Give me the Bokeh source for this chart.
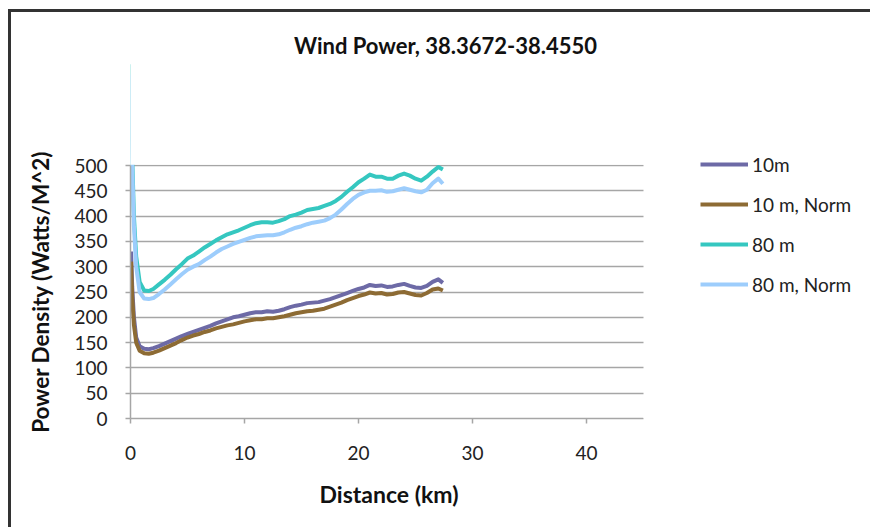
from bokeh.plotting import figure
from bokeh.models import (ColumnDataSource, Legend, LegendItem, FixedTicker, Range1d,
                          BoxAnnotation, Label, Title)
from bokeh.embed import file_html
from bokeh.resources import INLINE

# ---- data ----
distance_km = [0.05, 0.15, 0.3, 0.5, 0.8, 1.2, 1.6, 2.0, 2.5, 3.0, 3.5, 4.0, 4.5, 5.0, 5.5,
               6.0, 6.5, 7.0, 7.5, 8.0, 8.5, 9.0, 9.5, 10.0, 10.5, 11.0, 11.5, 12.0, 12.5,
               13.0, 13.5, 14.0, 14.5, 15.0, 15.5, 16.0, 16.5, 17.0, 17.5, 18.0, 18.5, 19.0,
               19.5, 20.0, 20.5, 21.0, 21.5, 22.0, 22.5, 23.0, 23.5, 24.0, 24.5, 25.0, 25.5,
               26.0, 26.5, 27.0, 27.4]

p10m = [330, 260, 200, 160, 143, 138, 137, 139, 143, 148, 153, 158, 163, 167, 171,
        175, 179, 183, 188, 192, 196, 200, 202, 205, 208, 210, 210, 212, 211,
        213, 216, 220, 223, 225, 228, 229, 230, 233, 236, 240, 244, 248,
        252, 256, 259, 264, 262, 263, 260, 261, 264, 266, 262, 259, 258,
        262, 270, 275, 268]

p10m_norm = [310, 240, 185, 150, 134, 129, 128, 130, 134, 139, 144, 149, 155, 160, 164,
             167, 171, 174, 178, 181, 184, 186, 189, 192, 194, 196, 196, 198, 198,
             200, 202, 205, 208, 210, 212, 213, 215, 217, 221, 225, 229, 234,
             238, 242, 245, 249, 247, 248, 245, 246, 249, 250, 247, 244, 243,
             248, 255, 257, 253]

p80m = [700, 520, 400, 320, 270, 253, 252, 256, 265, 274, 284, 295, 305, 316, 322,
        330, 338, 345, 352, 358, 364, 368, 372, 377, 382, 386, 388, 388, 387,
        390, 394, 400, 403, 407, 412, 414, 416, 420, 424, 430, 438, 448,
        457, 467, 474, 482, 478, 478, 474, 474, 480, 484, 480, 474, 470,
        478, 488, 497, 492]

p80m_norm = [680, 500, 380, 300, 250, 237, 236, 238, 246, 255, 265, 275, 285, 294, 300,
             305, 313, 320, 328, 335, 340, 345, 349, 353, 357, 360, 361, 362, 362,
             364, 368, 373, 377, 380, 384, 387, 389, 391, 396, 403, 413, 424,
             434, 442, 447, 450, 450, 451, 448, 449, 452, 455, 452, 449, 447,
             452, 465, 474, 464]

series_names = ["10m", "10 m, Norm", "80 m", "80 m, Norm"]
series_values = [p10m, p10m_norm, p80m, p80m_norm]
series_colors = ["#6D6AA6", "#8D6B34", "#35C7C0", "#9DCDFC"]

x_ticks = [0, 10, 20, 30, 40]
y_ticks = [0, 50, 100, 150, 200, 250, 300, 350, 400, 450, 500]
x_axis_max = 45
y_axis_max = 500

title_text = "Wind Power, 38.3672-38.4550"
x_label = "Distance (km)"
y_label = "Power Density (Watts/M^2)"

FONT = "Lato"

# ---- geometry (page pixels) ----
CANVAS_W, CANVAS_H = 870, 527
FR_LEFT, FR_TOP, FR_BOTTOM, FR_RIGHT = 130, 0, 418, CANVAS_W
AXIS_RIGHT_PX = 643                       # where 45 km sits
PX_PER_KM = (AXIS_RIGHT_PX - FR_LEFT) / float(x_axis_max)
PX_PER_UNIT = (FR_BOTTOM - 165) / 500.0   # 500 line at y=165
x_top = (FR_RIGHT - FR_LEFT) / PX_PER_KM
y_top = (FR_BOTTOM - FR_TOP) / PX_PER_UNIT

p = figure(width=CANVAS_W, height=CANVAS_H, output_backend="svg", toolbar_location=None,
           title=None,
           x_range=Range1d(0, x_top), y_range=Range1d(0, y_top),
           min_border_left=FR_LEFT, min_border_right=0, min_border_top=FR_TOP,
           min_border_bottom=CANVAS_H - FR_BOTTOM)
p.outline_line_color = None
p.background_fill_color = "white"
p.border_fill_color = "white"

renderers = []
for name, vals, col in zip(series_names, series_values, series_colors):
    src = ColumnDataSource(dict(x=distance_km, y=vals))
    r = p.line("x", "y", source=src, line_color=col, line_width=4, line_join="round")
    renderers.append((name, r))

# white masks: the plot area ends at 500 and at 45 km
p.quad(left=[-x_top], right=[2 * x_top], bottom=[y_axis_max + 1.5], top=[2 * y_top],
       fill_color="white", line_color=None)
p.add_layout(BoxAnnotation(left=x_axis_max, fill_color="white", fill_alpha=1,
                           line_alpha=0))

# axes
p.xaxis.ticker = FixedTicker(ticks=x_ticks)
p.yaxis.ticker = FixedTicker(ticks=y_ticks)
p.xaxis.bounds = (0, x_axis_max)
p.yaxis.bounds = (0, y_axis_max)
for ax in (p.xaxis[0], p.yaxis[0]):
    ax.axis_line_color = "#A6A6A6"
    ax.axis_line_width = 1.5
    ax.major_tick_line_color = "#A6A6A6"
    ax.major_tick_line_width = 1.5
    ax.major_tick_out = 5
    ax.major_tick_in = 0
    ax.minor_tick_line_color = None
    ax.major_label_text_font = FONT
    ax.major_label_text_font_size = "19px"
    ax.major_label_text_color = "#222222"
p.xaxis.major_label_standoff = 22
p.yaxis.major_label_standoff = 18

p.xgrid.grid_line_color = None
p.ygrid.grid_line_color = "#A6A6A6"
p.ygrid.grid_line_width = 1.5

# axis titles, centred on the 0-45 km and 0-500 parts of the axes
p.add_layout(Title(text=y_label, align="right", offset=150 - FR_TOP, standoff=36,
                   vertical_align="bottom", text_font=FONT, text_font_size="22.5px",
                   text_font_style="bold", text_color="#111111"), "left")
p.add_layout(Title(text=x_label, align="left", offset=319 - FR_LEFT, standoff=34,
                   vertical_align="top", text_font=FONT, text_font_size="23px",
                   text_font_style="bold", text_color="#111111"), "below")

# chart title
p.add_layout(Label(x=(445 - FR_LEFT) / PX_PER_KM, y=(FR_BOTTOM - 45) / PX_PER_UNIT,
                   text=title_text, text_align="center", text_baseline="middle",
                   text_font=FONT, text_font_size="22px", text_font_style="bold",
                   text_color="#111111"))

legend = Legend(items=[LegendItem(label=n, renderers=[r]) for n, r in renderers],
                location=(700 - FR_LEFT, 122), orientation="vertical",
                glyph_width=48, glyph_height=24, label_height=24, spacing=16,
                padding=0, margin=0, label_standoff=4,
                label_text_font=FONT, label_text_font_size="19px",
                label_text_color="#222222",
                border_line_color=None, background_fill_alpha=0)
p.add_layout(legend)

# chart-area border (top and left edges), as page decoration kept inside the window
TEMPLATE = """
{% block postamble %}
<style>
body::before { content: ""; position: fixed; left: 8px; top: 9px; right: 0; bottom: 0;
  border-left: 3px solid #333333; border-top: 3px solid #333333;
  pointer-events: none; z-index: 100; }
</style>
{% endblock %}
"""

open("out.html", "w").write(file_html(p, INLINE, template=TEMPLATE))
